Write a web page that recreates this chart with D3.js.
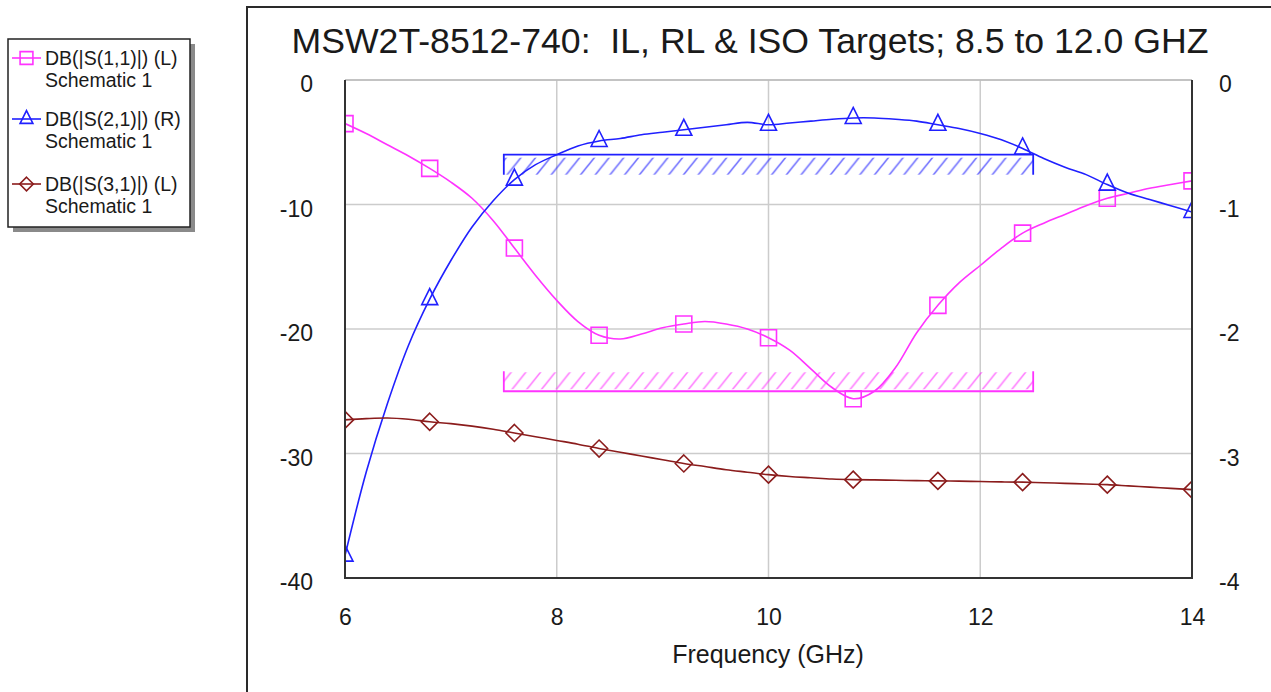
<!DOCTYPE html>
<html lang="en">
<head>
    <meta charset="UTF-8">
    <title>MSW2T-8512-740 Targets</title>
    <style>
      body {
          margin: 0;
          padding: 0;
          background-color: #fff;
          font-family: 'Liberation Sans', Arial, sans-serif;
      }
      svg text {
          fill: #1a1a1a;
          white-space: pre;
      }
  </style>
</head>
<body>
    <div id="chart"></div>
    <script src="https://d3js.org/d3.v7.min.js"></script>
    <script>
        // frequency points (GHz)
        const freq = [6.0, 6.2, 6.4, 6.6, 6.8, 7.0, 7.2, 7.4, 7.6, 7.8,
                      8.0, 8.2, 8.4, 8.6, 8.8, 9.0, 9.2, 9.4, 9.6, 9.8,
                      10.0, 10.2, 10.4, 10.6, 10.8, 11.0, 11.2, 11.4, 11.6, 11.8,
                      12.0, 12.2, 12.4, 12.6, 12.8, 13.0, 13.2, 13.4, 13.6, 13.8, 14.0];

        // DB(|S(1,1)|), left axis
        const s11 = [-3.5, -4.3, -5.2, -6.1, -7.1, -8.2, -9.5, -11.3, -13.5, -15.7,
                     -17.7, -19.4, -20.5, -20.8, -20.4, -19.9, -19.6, -19.4, -19.6, -20.0,
                     -20.7, -21.7, -23.2, -24.7, -25.6, -25.0, -23.1, -20.3, -18.1, -16.3,
                     -14.9, -13.5, -12.3, -11.5, -10.8, -10.1, -9.5, -9.1, -8.7, -8.4, -8.1];

        // DB(|S(2,1)|), right axis
        const s21 = [-3.82, -3.15, -2.6, -2.13, -1.76, -1.45, -1.18, -0.97, -0.8, -0.68,
                     -0.6, -0.53, -0.49, -0.47, -0.44, -0.42, -0.40, -0.38, -0.36, -0.34,
                     -0.36, -0.345, -0.33, -0.315, -0.305, -0.305, -0.315, -0.33, -0.36, -0.39,
                     -0.43, -0.48, -0.55, -0.63, -0.70, -0.76, -0.84, -0.91, -0.96, -1.01, -1.06];

        // DB(|S(3,1)|), left axis
        const s31 = [-27.3, -27.2, -27.15, -27.25, -27.45, -27.6, -27.8, -28.05, -28.35, -28.65,
                     -28.95, -29.25, -29.6, -29.9, -30.2, -30.5, -30.8, -31.05, -31.3, -31.5,
                     -31.7, -31.85, -31.95, -32.05, -32.1, -32.12, -32.15, -32.18, -32.2, -32.22,
                     -32.25, -32.28, -32.3, -32.35, -32.4, -32.45, -32.5, -32.6, -32.7, -32.8, -32.9];

        const xTicks = [6, 8, 10, 12, 14];
        const yLeftTicks = [0, -10, -20, -30, -40];
        const yRightTicks = [0, -1, -2, -3, -4];

        // targets: [fStart, fStop, level]
        const ilTarget = [7.5, 12.5, -0.6];   // right axis
        const rlTarget = [7.5, 12.5, -25];    // left axis

        const legendLabels = ["DB(|S(1,1)|) (L)", "DB(|S(2,1)|) (R)", "DB(|S(3,1)|) (L)"];
        const titleText = "MSW2T-8512-740:  IL, RL & ISO Targets; 8.5 to 12.0 GHZ";

        const width = 1271, height = 692;
        const plot = {left: 345, right: 1192, top: 80, bottom: 578};

        const svg = d3.select("#chart").append("svg")
            .attr("width", width)
            .attr("height", height);

        const x = d3.scaleLinear().domain([6, 14]).range([plot.left, plot.right]);
        const yL = d3.scaleLinear().domain([-40, 0]).range([plot.bottom, plot.top]);
        const yR = d3.scaleLinear().domain([-4, 0]).range([plot.bottom, plot.top]);

        // outer frame
        svg.append("path")
            .attr("d", `M247,${height} L247,7 L${width},7`)
            .attr("fill", "none")
            .attr("stroke", "#2a2a2a")
            .attr("stroke-width", 2);

        svg.append("text")
            .attr("x", 750).attr("y", 53)
            .attr("text-anchor", "middle")
            .style("font-size", "35px")
            .attr("textLength", 917)
            .attr("lengthAdjust", "spacingAndGlyphs")
            .text(titleText);

        const defs = svg.append("defs");
        defs.append("clipPath").attr("id", "plotClip")
            .append("rect")
            .attr("x", plot.left).attr("y", plot.top)
            .attr("width", plot.right - plot.left)
            .attr("height", plot.bottom - plot.top);

        function hatch(id, color) {
            const w = 14.7, h = 18.4;
            const p = defs.append("pattern")
                .attr("id", id)
                .attr("patternUnits", "userSpaceOnUse")
                .attr("width", w).attr("height", h);
            p.append("path")
                .attr("d", `M0,${h} L${w},0 M${-w / 4},${h / 4} L${w / 4},${-h / 4} M${3 * w / 4},${5 * h / 4} L${5 * w / 4},${3 * h / 4}`)
                .attr("stroke", color)
                .attr("stroke-opacity", 0.65)
                .attr("stroke-width", 1.6);
        }
        hatch("hatchBlue", "#2020ff");
        hatch("hatchPink", "#ff33ff");

        // grid
        const grid = svg.append("g");
        grid.selectAll(".gx").data(xTicks.slice(1, -1)).enter().append("line")
            .attr("x1", d => x(d)).attr("x2", d => x(d))
            .attr("y1", plot.top).attr("y2", plot.bottom)
            .attr("stroke", "#cccccc").attr("stroke-width", 1.5);
        grid.selectAll(".gy").data(yLeftTicks.slice(0, -1)).enter().append("line")
            .attr("x1", plot.left).attr("x2", plot.right)
            .attr("y1", d => yL(d)).attr("y2", d => yL(d))
            .attr("stroke", "#cccccc").attr("stroke-width", 1.5);

        // axes
        const plainFmt = d => String(d);
        function styleAxis(g) {
            g.select(".domain").remove();
            g.selectAll(".tick line").remove();
            g.selectAll(".tick text")
                .style("font-family", "'Liberation Sans', Arial, sans-serif")
                .style("font-size", "23px")
                .attr("fill", "#1a1a1a");
        }
        svg.append("g")
            .attr("transform", `translate(${plot.left},0)`)
            .call(d3.axisLeft(yL).tickValues(yLeftTicks).tickSize(0).tickPadding(32).tickFormat(plainFmt))
            .call(styleAxis)
            .selectAll(".tick text").attr("dy", "0.5em");
        svg.append("g")
            .attr("transform", `translate(${plot.right},0)`)
            .call(d3.axisRight(yR).tickValues(yRightTicks).tickSize(0).tickPadding(27).tickFormat(plainFmt))
            .call(styleAxis)
            .selectAll(".tick text").attr("dy", "0.5em");
        svg.append("g")
            .attr("transform", `translate(0,${plot.bottom})`)
            .call(d3.axisBottom(x).tickValues(xTicks).tickSize(0).tickPadding(31).tickFormat(plainFmt))
            .call(styleAxis);

        svg.append("text")
            .attr("x", 768).attr("y", 663)
            .attr("text-anchor", "middle")
            .style("font-size", "25px")
            .text("Frequency (GHz)");

        // target bars
        const ilY = yR(ilTarget[2]);
        svg.append("rect")
            .attr("x", x(ilTarget[0])).attr("y", ilY + 3)
            .attr("width", x(ilTarget[1]) - x(ilTarget[0])).attr("height", 17)
            .attr("fill", "url(#hatchBlue)");
        svg.append("path")
            .attr("d", `M${x(ilTarget[0])},${ilY + 20} L${x(ilTarget[0])},${ilY} L${x(ilTarget[1])},${ilY} L${x(ilTarget[1])},${ilY + 20}`)
            .attr("fill", "none").attr("stroke", "#2020ff").attr("stroke-width", 1.8);

        const rlY = yL(rlTarget[2]);
        svg.append("rect")
            .attr("x", x(rlTarget[0])).attr("y", rlY - 19)
            .attr("width", x(rlTarget[1]) - x(rlTarget[0])).attr("height", 17)
            .attr("fill", "url(#hatchPink)");
        svg.append("path")
            .attr("d", `M${x(rlTarget[0])},${rlY - 20} L${x(rlTarget[0])},${rlY} L${x(rlTarget[1])},${rlY} L${x(rlTarget[1])},${rlY - 20}`)
            .attr("fill", "none").attr("stroke", "#ff33ff").attr("stroke-width", 1.8);

        // markers
        const markerPath = {
            square: "M-8,-8 L8,-8 L8,8 L-8,8 Z",
            triangle: "M0,-10.5 L8,5.5 L-8,5.5 Z",
            diamond: "M0,-8.5 L8.5,0 L0,8.5 L-8.5,0 Z"
        };

        const series = [
            {values: s11, y: yL, color: "#ff33ff", marker: "square"},
            {values: s21, y: yR, color: "#2020ff", marker: "triangle"},
            {values: s31, y: yL, color: "#8b1c1c", marker: "diamond"}
        ];

        const plotG = svg.append("g").attr("clip-path", "url(#plotClip)");
        series.forEach(s => {
            const pts = freq.map((f, i) => [f, s.values[i]]);
            const line = d3.line()
                .x(d => x(d[0]))
                .y(d => s.y(d[1]))
                .curve(d3.curveCatmullRom);
            plotG.append("path")
                .datum(pts)
                .attr("d", line)
                .attr("fill", "none")
                .attr("stroke", s.color)
                .attr("stroke-width", 1.6);
            plotG.selectAll(null)
                .data(pts.filter((d, i) => i % 4 === 0))
                .enter().append("path")
                .attr("transform", d => `translate(${x(d[0])},${s.y(d[1])})`)
                .attr("d", markerPath[s.marker])
                .attr("fill", "none")
                .attr("stroke", s.color)
                .attr("stroke-width", 1.6);
        });

        // plot frame
        svg.append("line")
            .attr("x1", plot.left).attr("x2", plot.right)
            .attr("y1", plot.top).attr("y2", plot.top)
            .attr("stroke", "#bbbbbb").attr("stroke-width", 1.5);
        svg.append("path")
            .attr("d", `M${plot.left},${plot.top} L${plot.left},${plot.bottom} L${plot.right},${plot.bottom} L${plot.right},${plot.top}`)
            .attr("fill", "none").attr("stroke", "#333").attr("stroke-width", 2);

        // legend
        const lg = svg.append("g");
        lg.append("rect").attr("x", 13).attr("y", 44).attr("width", 182).attr("height", 188).attr("fill", "#8a8a8a");
        lg.append("rect").attr("x", 8).attr("y", 39).attr("width", 182).attr("height", 188)
            .attr("fill", "#fff").attr("stroke", "#222").attr("stroke-width", 1.5);
        const legendY = [58, 119, 184];
        series.forEach((s, i) => {
            const cy = legendY[i];
            lg.append("line")
                .attr("x1", 12).attr("x2", 41).attr("y1", cy).attr("y2", cy)
                .attr("stroke", s.color).attr("stroke-width", 1.6);
            lg.append("path")
                .attr("transform", `translate(26.5,${cy}) scale(0.8)`)
                .attr("d", markerPath[s.marker])
                .attr("fill", "none").attr("stroke", s.color).attr("stroke-width", 2);
            lg.append("text").attr("x", 45).attr("y", cy + 7)
                .style("font-size", "19.5px").text(legendLabels[i]);
            lg.append("text").attr("x", 45).attr("y", cy + 29)
                .style("font-size", "19.5px").text("Schematic 1");
        });
    </script>
</body>
</html>
